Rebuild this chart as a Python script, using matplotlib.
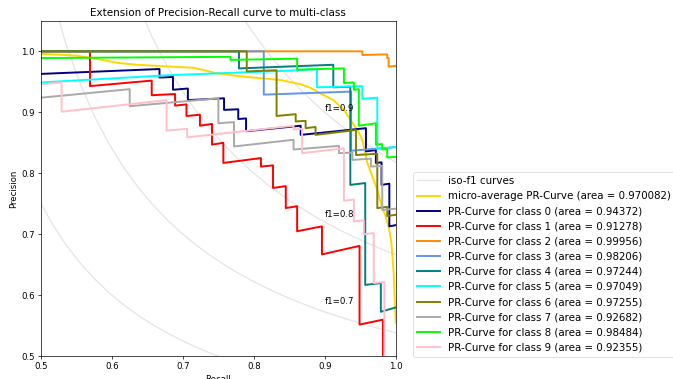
import numpy as np
import matplotlib.pyplot as plt

# iso-f1 reference levels
f_scores = [0.5, 0.6, 0.7, 0.8, 0.9]

# micro-average curve
micro_recall = [0.5, 0.550, 0.586, 0.609, 0.635, 0.682, 0.715, 0.748, 0.781, 0.809,
                0.838, 0.866, 0.880, 0.894, 0.912, 0.927, 0.936, 0.946, 0.953, 0.957,
                0.960, 0.967, 0.974, 0.979, 0.986, 0.991, 0.994, 0.997, 0.998, 1.0]
micro_precision = [0.996, 0.993, 0.986, 0.981, 0.978, 0.975, 0.973, 0.964, 0.959, 0.956,
                   0.953, 0.946, 0.940, 0.931, 0.920, 0.904, 0.888, 0.871, 0.855, 0.833,
                   0.817, 0.795, 0.773, 0.751, 0.729, 0.707, 0.685, 0.640, 0.609, 0.555]
micro_area = 0.970082

class_areas = [0.94372, 0.91278, 0.99956, 0.98206, 0.97244,
               0.97049, 0.97255, 0.92682, 0.98484, 0.92355]

recall_0 = [0.5, 0.667, 0.667, 0.686, 0.686, 0.707, 0.707, 0.758, 0.758, 0.778, 0.778, 0.789,
            0.789, 0.866, 0.866, 0.958, 0.958, 0.972, 0.972, 0.980, 0.980, 0.991, 0.991, 1.0]
precision_0 = [0.963, 0.971, 0.957, 0.958, 0.937, 0.939, 0.920, 0.923, 0.904, 0.905, 0.889, 0.890,
               0.869, 0.878, 0.863, 0.874, 0.836, 0.838, 0.817, 0.818, 0.781, 0.783, 0.713, 0.715]

recall_1 = [0.5, 0.569, 0.569, 0.656, 0.656, 0.689, 0.689, 0.705, 0.705, 0.724, 0.724, 0.741,
            0.741, 0.757, 0.757, 0.810, 0.810, 0.827, 0.827, 0.845, 0.845, 0.861, 0.861, 0.896,
            0.896, 0.949, 0.949, 0.982, 0.982]
precision_1 = [1.0, 1.0, 0.943, 0.952, 0.928, 0.930, 0.911, 0.913, 0.894, 0.896, 0.878, 0.881,
               0.847, 0.850, 0.817, 0.825, 0.811, 0.813, 0.776, 0.779, 0.743, 0.746, 0.705, 0.713,
               0.667, 0.681, 0.552, 0.560, 0.45]

recall_2 = [0.5, 0.953, 0.953, 0.988, 0.988, 0.990, 0.990, 1.0]
precision_2 = [1.0, 1.0, 0.994, 0.995, 0.989, 0.989, 0.975, 0.976]

recall_3 = [0.5, 0.814, 0.814, 0.937, 0.937, 1.0]
precision_3 = [1.0, 1.0, 0.929, 0.934, 0.837, 0.843]

recall_4 = [0.5, 0.779, 0.779, 0.912, 0.912, 0.936, 0.936, 0.957, 0.957, 0.979, 0.979, 1.0]
precision_4 = [1.0, 1.0, 0.972, 0.978, 0.941, 0.942, 0.781, 0.784, 0.617, 0.620, 0.573, 0.580]

recall_5 = [0.5, 0.682, 0.866, 0.889, 0.889, 0.953, 0.953, 0.974, 0.974, 1.0]
precision_5 = [0.949, 0.961, 0.969, 0.971, 0.941, 0.943, 0.922, 0.924, 0.840, 0.843]

recall_6 = [0.5, 0.790, 0.790, 0.832, 0.832, 0.859, 0.859, 0.873, 0.873, 0.887, 0.887, 0.944,
            0.944, 0.974, 0.974, 0.988, 0.988, 1.0]
precision_6 = [1.0, 1.0, 0.967, 0.969, 0.894, 0.897, 0.885, 0.886, 0.874, 0.876, 0.863, 0.871,
               0.830, 0.832, 0.743, 0.745, 0.730, 0.732]

recall_7 = [0.5, 0.625, 0.625, 0.750, 0.750, 0.772, 0.772, 0.856, 0.856, 0.920, 0.920, 0.939,
            0.939, 0.965, 0.965, 0.981, 0.981, 1.0]
precision_7 = [0.924, 0.938, 0.910, 0.923, 0.882, 0.884, 0.844, 0.855, 0.839, 0.845, 0.833, 0.834,
               0.822, 0.824, 0.811, 0.812, 0.740, 0.742]

recall_8 = [0.5, 0.767, 0.767, 0.861, 0.861, 0.927, 0.927, 0.941, 0.941, 0.948, 0.948, 0.972,
            0.972, 0.981, 0.981, 0.988, 0.988, 1.0]
precision_8 = [0.989, 0.991, 0.986, 0.988, 0.970, 0.972, 0.948, 0.949, 0.937, 0.938, 0.878, 0.882,
               0.847, 0.848, 0.839, 0.840, 0.826, 0.827]

recall_9 = [0.5, 0.529, 0.529, 0.677, 0.677, 0.706, 0.706, 0.856, 0.856, 0.868, 0.868, 0.927,
            0.927, 0.941, 0.941, 0.955, 0.955, 0.969, 0.969, 0.984, 0.984]
precision_9 = [0.946, 0.949, 0.901, 0.920, 0.870, 0.873, 0.859, 0.878, 0.872, 0.873, 0.833, 0.841,
               0.755, 0.757, 0.721, 0.723, 0.700, 0.702, 0.620, 0.622, 0.45]

recalls = [recall_0, recall_1, recall_2, recall_3, recall_4,
           recall_5, recall_6, recall_7, recall_8, recall_9]
precisions = [precision_0, precision_1, precision_2, precision_3, precision_4,
              precision_5, precision_6, precision_7, precision_8, precision_9]

colors = ['navy', 'red', 'darkorange', 'cornflowerblue', 'teal',
          'cyan', 'olive', 'darkgray', 'lime', 'pink']

fig = plt.figure(figsize=(6.73, 3.79), dpi=100)
ax = fig.add_axes([0.061, 0.060, 0.527, 0.885])

lines = []
labels = []
for f_score in f_scores:
    x = np.linspace(0.01, 1)
    y = f_score * x / (2 * x - f_score)
    l, = ax.plot(x[y >= 0], y[y >= 0], color='gray', alpha=0.2, lw=0.95)
    ax.annotate('f1={0:0.1f}'.format(f_score), xy=(0.9, y[45] + 0.02), fontsize=6.2)
lines.append(l)
labels.append('iso-f1 curves')

l, = ax.plot(micro_recall, micro_precision, color='gold', lw=1.4)
lines.append(l)
labels.append('micro-average PR-Curve (area = {0:0.6f})'.format(micro_area))

for i in range(10):
    l, = ax.plot(recalls[i], precisions[i], color=colors[i], lw=1.4)
    lines.append(l)
    labels.append('PR-Curve for class {0} (area = {1:0.5f})'.format(i, class_areas[i]))

ax.set_xlim([0.5, 1.0])
ax.set_ylim([0.5, 1.05])
ax.set_xlabel('Recall', fontsize=6.2, labelpad=2.5)
ax.set_ylabel('Precision', fontsize=6.2, labelpad=2.5)
ax.set_title('Extension of Precision-Recall curve to multi-class', fontsize=7.5, pad=3.7)
ax.tick_params(labelsize=6.2, length=2.2, width=0.5, pad=2.2)
for s in ax.spines.values():
    s.set_linewidth(0.5)

leg = ax.legend(lines, labels, loc='lower left', bbox_to_anchor=(0.614, 0.059),
                bbox_transform=fig.transFigure, borderaxespad=0, prop=dict(size=7.4),
                handlelength=2.2)
leg.get_frame().set_linewidth(0.5)

fig.savefig('out.png', dpi=100)
